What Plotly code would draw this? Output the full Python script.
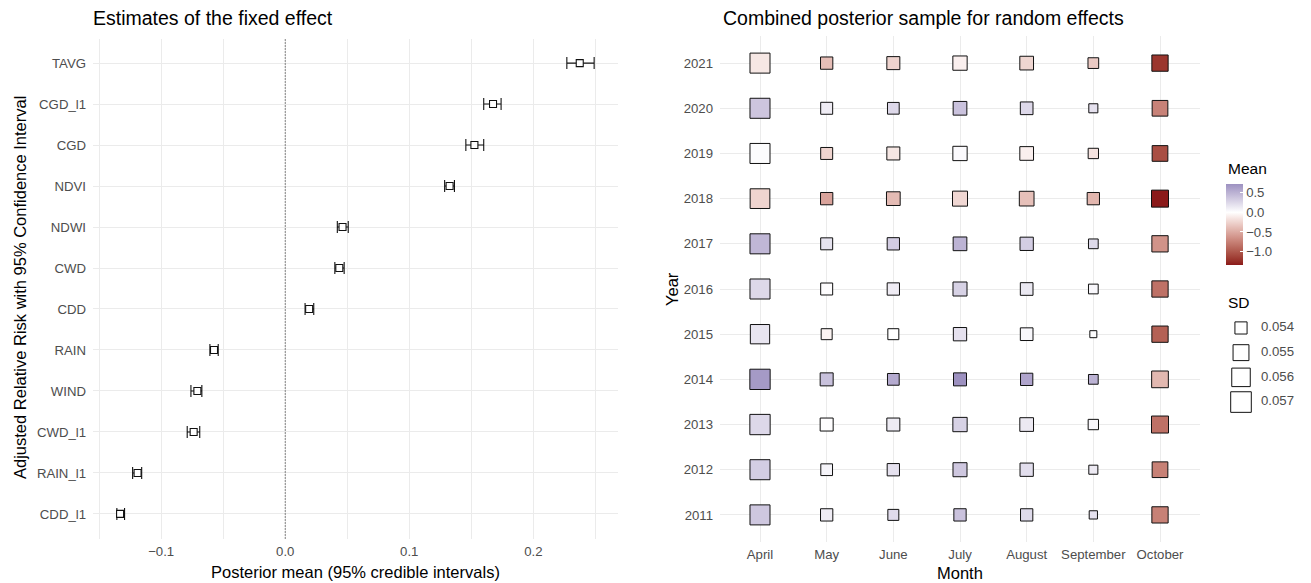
import numpy as np
import plotly.graph_objects as go

# ---------------- fixed effects (posterior mean and 95% interval) ----------------
fixed_vars = ["TAVG", "CGD_l1", "CGD", "NDVI", "NDWI", "CWD", "CDD",
              "RAIN", "WIND", "CWD_l1", "RAIN_l1", "CDD_l1"]
fixed_mean = [0.2374, 0.1675, 0.1525, 0.1325, 0.0462, 0.0436, 0.0193,
              -0.0574, -0.0708, -0.0738, -0.1190, -0.1331]
fixed_lower = [0.2270, 0.1600, 0.1456, 0.1285, 0.0420, 0.0400, 0.0160,
               -0.0607, -0.0760, -0.0790, -0.1230, -0.1357]
fixed_upper = [0.2490, 0.1740, 0.1600, 0.1364, 0.0508, 0.0475, 0.0230,
               -0.0540, -0.0672, -0.0689, -0.1157, -0.1295]
fixed_xticks = [-0.1, 0.0, 0.1, 0.2]
fixed_xminor = [-0.15, -0.05, 0.05, 0.15, 0.25]

# ---------------- random effects by year and month ----------------
months = ["April", "May", "June", "July", "August", "September", "October"]
years = ["2011", "2012", "2013", "2014", "2015", "2016",
         "2017", "2018", "2019", "2020", "2021"]

# posterior mean, one row per year (April ... October)
mean_2011 = [0.36, 0.12, 0.23, 0.39, 0.24, 0.19, -0.75]
mean_2012 = [0.32, 0.07, 0.19, 0.36, 0.21, 0.14, -0.75]
mean_2013 = [0.25, 0.01, 0.13, 0.29, 0.14, 0.05, -0.85]
mean_2014 = [0.66, 0.40, 0.55, 0.72, 0.59, 0.50, -0.42]
mean_2015 = [0.165, -0.07, 0.00, 0.19, 0.05, 0.02, -0.95]
mean_2016 = [0.25, 0.01, 0.12, 0.29, 0.15, 0.05, -0.85]
mean_2017 = [0.46, 0.18, 0.33, 0.49, 0.32, 0.24, -0.64]
mean_2018 = [-0.25, -0.54, -0.40, -0.23, -0.37, -0.43, -1.34]
mean_2019 = [0.02, -0.25, -0.14, 0.03, -0.09, -0.16, -1.06]
mean_2020 = [0.37, 0.12, 0.25, 0.39, 0.25, 0.19, -0.74]
mean_2021 = [-0.14, -0.38, -0.26, -0.09, -0.24, -0.31, -1.20]

# posterior SD, one row per year (April ... October)
sd_2011 = [0.05670, 0.05403, 0.05380, 0.05403, 0.05403, 0.05353, 0.05513]
sd_2012 = [0.05670, 0.05392, 0.05403, 0.05443, 0.05425, 0.05358, 0.05493]
sd_2013 = [0.05684, 0.05418, 0.05418, 0.05451, 0.05435, 0.05371, 0.05539]
sd_2014 = [0.05684, 0.05418, 0.05392, 0.05418, 0.05403, 0.05364, 0.05528]
sd_2015 = [0.05636, 0.05380, 0.05380, 0.05425, 0.05411, 0.05350, 0.05513]
sd_2016 = [0.05670, 0.05397, 0.05403, 0.05443, 0.05411, 0.05364, 0.05513]
sd_2017 = [0.05670, 0.05397, 0.05403, 0.05435, 0.05425, 0.05364, 0.05513]
sd_2018 = [0.05655, 0.05403, 0.05435, 0.05471, 0.05462, 0.05403, 0.05539]
sd_2019 = [0.05670, 0.05397, 0.05418, 0.05451, 0.05435, 0.05371, 0.05493]
sd_2020 = [0.05670, 0.05397, 0.05392, 0.05435, 0.05411, 0.05358, 0.05493]
sd_2021 = [0.05670, 0.05403, 0.05418, 0.05451, 0.05435, 0.05376, 0.05513]

mean_rows = [mean_2011, mean_2012, mean_2013, mean_2014, mean_2015, mean_2016,
             mean_2017, mean_2018, mean_2019, mean_2020, mean_2021]
sd_rows = [sd_2011, sd_2012, sd_2013, sd_2014, sd_2015, sd_2016,
           sd_2017, sd_2018, sd_2019, sd_2020, sd_2021]

mean_breaks = [0.5, 0.0, -0.5, -1.0]
sd_breaks = [0.054, 0.055, 0.056, 0.057]

W, H = 1311, 583
FONT = "Liberation Sans, Arial, Helvetica, sans-serif"
GRID = "#EBEBEB"
TICK = "#4D4D4D"
TICK_SIZE = 13.2
AXIS_TITLE_SIZE = 16.5
TITLE_SIZE = 19.5


def px_x(p):
    return p / W


def px_y(p):
    return 1 - p / H


# ---------------- diverging colour scale interpolated in CIE Lab ----------------
def _lin(c):
    c = c / 255.0
    return c / 12.92 if c <= 0.04045 else ((c + 0.055) / 1.055) ** 2.4


def hex_to_lab(h):
    r, g, b = (_lin(int(h[i:i + 2], 16)) for i in (1, 3, 5))
    X = (0.4124 * r + 0.3576 * g + 0.1805 * b) / 0.95047
    Y = 0.2126 * r + 0.7152 * g + 0.0722 * b
    Z = (0.0193 * r + 0.1192 * g + 0.9505 * b) / 1.08883
    f = lambda t: t ** (1 / 3) if t > 0.008856 else 7.787 * t + 16 / 116
    fx, fy, fz = f(X), f(Y), f(Z)
    return 116 * fy - 16, 500 * (fx - fy), 200 * (fy - fz)


def lab_to_hex(L, a, b):
    fy = (L + 16) / 116
    fx, fz = fy + a / 500, fy - b / 200
    inv = lambda t: t ** 3 if t ** 3 > 0.008856 else (t - 16 / 116) / 7.787
    X, Y, Z = 0.95047 * inv(fx), inv(fy), 1.08883 * inv(fz)
    rgb = [3.2406 * X - 1.5372 * Y - 0.4986 * Z,
           -0.9689 * X + 1.8758 * Y + 0.0415 * Z,
           0.0557 * X - 0.2040 * Y + 1.0570 * Z]
    out = []
    for c in rgb:
        c = min(1.0, max(0.0, c))
        c = 12.92 * c if c <= 0.0031308 else 1.055 * c ** (1 / 2.4) - 0.055
        out.append(int(round(c * 255)))
    return "#%02x%02x%02x" % tuple(out)


LOW, MID, HIGH = hex_to_lab("#8B1A1A"), hex_to_lab("#FFFFFF"), hex_to_lab("#483D8B")

all_means = np.array(mean_rows, dtype=float)
cmin, cmax = float(all_means.min()), float(all_means.max())
half = max(abs(cmin), abs(cmax))

colorscale = []
for p in np.linspace(0, 1, 41):
    v = cmin + p * (cmax - cmin)
    t = v / half
    end = HIGH if t >= 0 else LOW
    t = abs(t)
    lab = [MID[k] + (end[k] - MID[k]) * t for k in range(3)]
    colorscale.append([float(p), lab_to_hex(*lab)])

# ---------------- square size from posterior SD (area scale) ----------------
all_sd = np.array(sd_rows, dtype=float)
sd_min = float(all_sd.min())


def sd_to_px(sd):
    return 8 + 230 * np.sqrt(np.clip(np.asarray(sd, dtype=float) - sd_min, 0, None)) - 1


fig = go.Figure()

# ---------------- left panel: fixed effects ----------------
fm = np.array(fixed_mean)
fl = np.array(fixed_lower)
fu = np.array(fixed_upper)
fig.add_trace(go.Scatter(
    x=fm, y=fixed_vars, mode="markers",
    marker=dict(symbol="square", size=7, color="white", opacity=1,
                line=dict(color="#111111", width=1.1)),
    error_x=dict(type="data", symmetric=False, array=fu - fm, arrayminus=fm - fl,
                 color="#111111", thickness=1.1, width=6),
    xaxis="x", yaxis="y", showlegend=False, hoverinfo="x+y",
))

span = fu.max() - fl.min()
x_range = [fl.min() - 0.05 * span, fu.max() + 0.05 * span]

# ---------------- right panel: random effects grid ----------------
gx, gy, gc, gs = [], [], [], []
for yi, yr in enumerate(years):
    for mi, mo in enumerate(months):
        gx.append(mo)
        gy.append(yr)
        gc.append(mean_rows[yi][mi])
        gs.append(sd_rows[yi][mi])

fig.add_trace(go.Scatter(
    x=gx, y=gy, mode="markers",
    marker=dict(symbol="square", size=sd_to_px(gs), color=gc, opacity=1,
                colorscale=colorscale, cmin=cmin, cmax=cmax,
                line=dict(color="#111111", width=1),
                showscale=True,
                colorbar=dict(
                    x=px_x(1226), xanchor="left", xpad=0,
                    y=px_y(224.5), yanchor="middle", ypad=0,
                    len=81, lenmode="pixels", thickness=17,
                    outlinewidth=0,
                    tickvals=mean_breaks,
                    ticktext=["0.5", "0.0", "\u22120.5", "\u22121.0"],
                    ticks="inside", ticklen=3, tickcolor="white", tickwidth=1,
                    tickfont=dict(family=FONT, size=TICK_SIZE, color=TICK),
                )),
    customdata=gs,
    hovertemplate="%{x} %{y}<br>Mean %{marker.color:.2f}<br>SD %{customdata:.4f}<extra></extra>",
    xaxis="x2", yaxis="y2", showlegend=False,
))

# ---------------- SD size key ----------------
key_idx = list(range(len(sd_breaks)))
fig.add_trace(go.Scatter(
    x=[0] * len(sd_breaks), y=key_idx, mode="markers",
    marker=dict(symbol="square", size=sd_to_px(sd_breaks), color="white", opacity=1,
                line=dict(color="#111111", width=1)),
    xaxis="x3", yaxis="y3", showlegend=False, hoverinfo="skip",
))
fig.add_trace(go.Scatter(
    x=[1] * len(sd_breaks), y=key_idx, mode="text",
    text=["%.3f" % v for v in sd_breaks], textposition="middle right",
    textfont=dict(family=FONT, size=TICK_SIZE, color=TICK),
    xaxis="x3", yaxis="y3", showlegend=False, hoverinfo="skip",
))

axis_common = dict(showline=False, zeroline=False, ticks="",
                   tickfont=dict(family=FONT, size=TICK_SIZE, color=TICK))

fig.update_layout(
    width=W, height=H,
    margin=dict(l=0, r=0, t=0, b=0),
    paper_bgcolor="white", plot_bgcolor="white",
    font=dict(family=FONT, color="black"),
    xaxis=dict(domain=[px_x(93), px_x(618)], range=x_range, anchor="y",
               tickvals=fixed_xticks, ticktext=["\u22120.1", "0.0", "0.1", "0.2"],
               showgrid=True, gridcolor=GRID, gridwidth=1.1,
               minor=dict(tickvals=fixed_xminor, showgrid=True, gridcolor=GRID, gridwidth=0.8),
               ticklabelstandoff=3, **axis_common),
    yaxis=dict(domain=[px_y(538.5), px_y(38.5)], anchor="x", type="category",
               categoryarray=fixed_vars[::-1], range=[-0.6, len(fixed_vars) - 0.4],
               showgrid=True, gridcolor=GRID, gridwidth=1.3,
               ticklabelstandoff=6, **axis_common),
    xaxis2=dict(domain=[px_x(720), px_x(1200)], anchor="y2", type="category",
                categoryarray=months, range=[-0.6, len(months) - 0.4],
                showgrid=True, gridcolor=GRID, gridwidth=1.1,
                ticklabelstandoff=3, **axis_common),
    yaxis2=dict(domain=[px_y(542), px_y(36)], anchor="x2", type="category",
                categoryarray=years, range=[-0.6, len(years) - 0.4],
                showgrid=True, gridcolor=GRID, gridwidth=1.3,
                ticklabelstandoff=6, **axis_common),
    xaxis3=dict(domain=[px_x(1228), px_x(1308)], anchor="y3", range=[-0.65, 3.35],
                visible=False, fixedrange=True),
    yaxis3=dict(domain=[px_y(414.4), px_y(315.6)], anchor="x3", range=[3.5, -0.5],
                visible=False, fixedrange=True),
)

# dotted reference line at zero
fig.add_shape(type="line", xref="x", yref="y domain", x0=0, x1=0, y0=0, y1=1,
              line=dict(color="black", width=0.9, dash="1px,2px"))


def label(text, x, y, size, xanchor="left", angle=0, color="black"):
    fig.add_annotation(text=text, xref="paper", yref="paper", x=px_x(x), y=px_y(y),
                       xanchor=xanchor, yanchor="middle", textangle=angle,
                       showarrow=False, font=dict(family=FONT, size=size, color=color))


label("Estimates of the fixed effect", 91, 18, TITLE_SIZE)
label("Combined posterior sample for random effects", 721, 18, TITLE_SIZE)
label("Adjusted Relative Risk with 95% Confidence Interval", 20, 288, AXIS_TITLE_SIZE,
      xanchor="center", angle=-90)
label("Posterior mean (95% credible intervals)", 355, 572, AXIS_TITLE_SIZE, xanchor="center")
label("Year", 672, 289, AXIS_TITLE_SIZE, xanchor="center", angle=-90)
label("Month", 960, 573, AXIS_TITLE_SIZE, xanchor="center")
label("Mean", 1226, 168, 15.5)
label("SD", 1226, 302, 15.5)

fig.write_html("out.html")
